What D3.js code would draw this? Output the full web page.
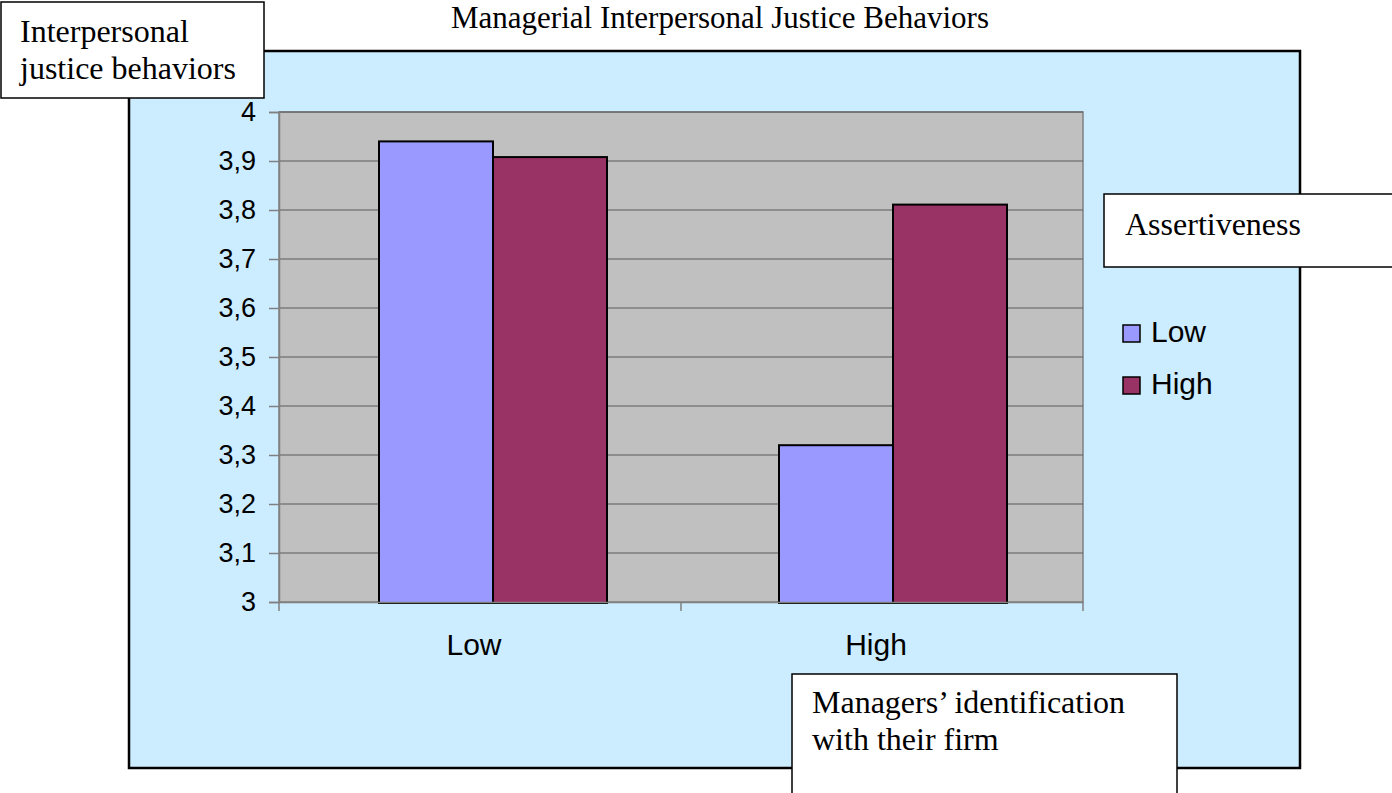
<!DOCTYPE html>
<html>
<head>
<meta charset="utf-8">
<script src="https://cdn.jsdelivr.net/npm/d3@7"></script>
<style>
  body { margin: 0; background: #fff; }
  svg { display: block; }
  .serif { font-family: "Liberation Serif", "Times New Roman", serif; }
  .sans { font-family: "Liberation Sans", Arial, sans-serif; }
</style>
</head>
<body>
<svg width="1392" height="793"></svg>
<script>
/* globals d3 */

// data
var categories = ["Low", "High"];          // managers' identification
var series = ["Low", "High"];              // assertiveness
var lowValues = [3.94, 3.32];
var highValues = [3.908, 3.811];
var yTicks = [3, 3.1, 3.2, 3.3, 3.4, 3.5, 3.6, 3.7, 3.8, 3.9, 4];
var colors = ["#9999ff", "#993366"];

var svg = d3.select("svg");

var plot = {left: 279, top: 112, right: 1083, bottom: 602};

// outer chart area
svg.append("rect")
  .attr("x", 129).attr("y", 51)
  .attr("width", 1171).attr("height", 717)
  .attr("fill", "#ccecff")
  .attr("stroke", "#000").attr("stroke-width", 2.5);

// title
svg.append("text")
  .attr("class", "serif")
  .attr("x", 720).attr("y", 28)
  .attr("text-anchor", "middle")
  .attr("font-size", 31)
  .text("Managerial Interpersonal Justice Behaviors");

var x = d3.scaleBand().domain(categories).range([plot.left, plot.right]);
// bars sit a bit to the right of the category centres in the original
var xBars = d3.scaleBand().domain(categories).range([plot.left + 14, plot.right + 10]).paddingInner(0.43).paddingOuter(0.215);
var xSeries = d3.scaleBand().domain(series).range([0, xBars.bandwidth()]);
var y = d3.scaleLinear().domain([3, 4]).range([plot.bottom, plot.top]);

// plot background
svg.append("rect")
  .attr("x", plot.left).attr("y", plot.top)
  .attr("width", plot.right - plot.left).attr("height", plot.bottom - plot.top)
  .attr("fill", "#c0c0c0")
  .attr("stroke", "#808080").attr("stroke-width", 1.5);

// gridlines
svg.append("g")
  .selectAll("line")
  .data(yTicks.slice(1))
  .enter().append("line")
  .attr("x1", plot.left).attr("x2", plot.right)
  .attr("y1", function(d) { return y(d); })
  .attr("y2", function(d) { return y(d); })
  .attr("stroke", "#5a5a5a").attr("stroke-width", 1.2);

// bars
var rows = categories.map(function(c, i) {
  return {cat: c, vals: [lowValues[i], highValues[i]]};
});

var groups = svg.append("g").selectAll("g")
  .data(rows)
  .enter().append("g")
  .attr("transform", function(d) { return "translate(" + xBars(d.cat) + ",0)"; });

groups.selectAll("rect")
  .data(function(d) { return d.vals.map(function(v, j) { return {s: series[j], v: v, j: j}; }); })
  .enter().append("rect")
  .attr("x", function(d) { return xSeries(d.s); })
  .attr("y", function(d) { return y(d.v); })
  .attr("width", xSeries.bandwidth())
  .attr("height", function(d) { return y(3) - y(d.v) + 1; })
  .attr("fill", function(d) { return colors[d.j]; })
  .attr("stroke", "#000").attr("stroke-width", 2);

// y axis
var yAxis = svg.append("g")
  .attr("transform", "translate(" + plot.left + ",0)")
  .call(d3.axisLeft(y).tickValues(yTicks).tickSize(10).tickPadding(13)
    .tickFormat(function(d) { return d3.format(".1~f")(d).replace(".", ","); }));
yAxis.select(".domain").attr("stroke", "#808080").attr("stroke-width", 1.5);
yAxis.selectAll(".tick line").attr("stroke", "#808080").attr("stroke-width", 1.5);
yAxis.selectAll("text")
  .attr("class", "sans")
  .attr("font-size", 27).attr("fill", "#000");

// x axis
var xAxis = svg.append("g")
  .attr("transform", "translate(0," + plot.bottom + ")")
  .call(d3.axisBottom(x).tickSize(0).tickPadding(32));
xAxis.select(".domain").attr("stroke", "#808080").attr("stroke-width", 1.5);
xAxis.selectAll("text")
  .attr("class", "sans")
  .attr("font-size", 30).attr("fill", "#000")
  .attr("dx", -6);
// category separator ticks
svg.append("g")
  .selectAll("line")
  .data([plot.left, x("High"), plot.right])
  .enter().append("line")
  .attr("x1", function(d) { return d; }).attr("x2", function(d) { return d; })
  .attr("y1", plot.bottom).attr("y2", plot.bottom + 9)
  .attr("stroke", "#808080").attr("stroke-width", 1.5);

// legend
var legend = svg.append("g").selectAll("g")
  .data(series)
  .enter().append("g")
  .attr("transform", function(d, i) { return "translate(1123," + (325 + i * 52) + ")"; });
legend.append("rect")
  .attr("width", 17).attr("height", 17)
  .attr("fill", function(d, i) { return colors[i]; })
  .attr("stroke", "#000").attr("stroke-width", 1.5);
legend.append("text")
  .attr("class", "sans")
  .attr("x", 28).attr("y", 17)
  .attr("font-size", 30)
  .text(function(d) { return d; });

// text boxes
function textBox(bx, by, bw, bh, lines, tx, ty, lh) {
  svg.append("rect")
    .attr("x", bx).attr("y", by).attr("width", bw).attr("height", bh)
    .attr("fill", "#fff").attr("stroke", "#000").attr("stroke-width", 1.5);
  svg.append("text")
    .attr("class", "serif")
    .attr("font-size", 32)
    .selectAll("tspan")
    .data(lines)
    .enter().append("tspan")
    .attr("x", tx)
    .attr("y", function(d, i) { return ty + i * lh; })
    .text(function(d) { return d; });
}

textBox(1, 2, 263, 96, ["Interpersonal", "justice behaviors"], 20, 42, 37);
textBox(1104, 194, 300, 73, ["Assertiveness"], 1125, 235, 0);
textBox(792, 674, 385, 140, ["Managers\u2019 identification", "with their firm"], 812, 713, 37);
</script>
</body>
</html>
